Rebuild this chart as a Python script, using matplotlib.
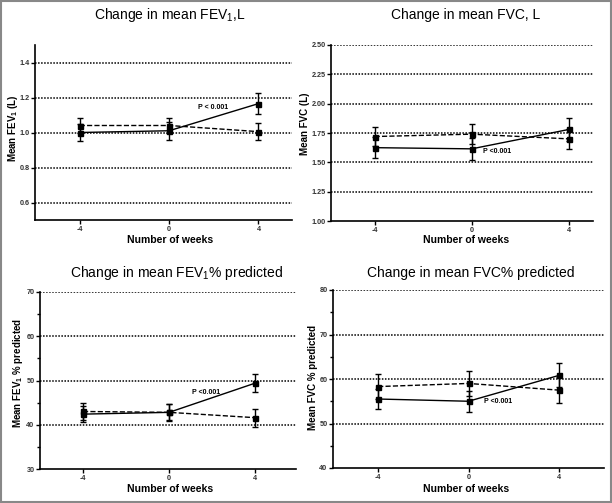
import matplotlib
matplotlib.use("Agg")
import matplotlib.pyplot as plt
from matplotlib.patches import Rectangle

plt.rcParams['font.family'] = ['Liberation Sans', 'DejaVu Sans']
plt.rcParams['mathtext.fontset'] = 'custom'
plt.rcParams['mathtext.rm'] = 'Liberation Sans'
plt.rcParams['mathtext.bf'] = 'Liberation Sans:bold'

W, H = 612, 503
weeks = [-4, 0, 4]

# FEV1, L
fev1_solid = [1.00, 1.01, 1.165]
fev1_solid_err = [0.05, 0.05, 0.06]
fev1_dash = [1.04, 1.04, 1.005]
fev1_dash_err = [0.045, 0.045, 0.05]

# FVC, L
fvc_solid = [1.625, 1.615, 1.78]
fvc_solid_err = [0.09, 0.095, 0.095]
fvc_dash = [1.72, 1.74, 1.70]
fvc_dash_err = [0.08, 0.085, 0.085]

# FEV1 % predicted
fev1p_solid = [42.4, 42.8, 49.4]
fev1p_solid_err = [1.8, 1.8, 2.1]
fev1p_dash = [43.0, 42.8, 41.6]
fev1p_dash_err = [2.0, 1.9, 2.0]

# FVC % predicted
fvcp_solid = [55.5, 55.0, 60.8]
fvcp_solid_err = [2.3, 2.4, 2.7]
fvcp_dash = [58.3, 59.0, 57.5]
fvcp_dash_err = [2.8, 2.8, 3.0]

# box = (left, top, right, bottom) in pixels, text positions in pixels
panels = [
    dict(box=(35, 45, 292, 220), title="Change in mean FEV$_1$,L", tpos=(170, 15),
         xlpos=(170, 240), ylpos=(13, 128),
         ylabel=r"Mean FEV$_\mathbf{1}$ (L)", ylim=(0.5, 1.5), xlim=(-6, 5.5),
         yticks=[0.6, 0.8, 1.0, 1.2, 1.4], ylabels=["0.6", "0.8", "1.0", "1.2", "1.4"],
         minor=None, grid=[0.6, 0.8, 1.0, 1.2, 1.4],
         solid=fev1_solid, solid_err=fev1_solid_err, dash=fev1_dash, dash_err=fev1_dash_err,
         ptext="P < 0.001", pxy=(1.95, 1.143)),
    dict(box=(331, 45, 593, 221), title="Change in mean FVC, L", tpos=(466, 15),
         xlpos=(466, 240), ylpos=(305, 124),
         ylabel="Mean FVC (L)", ylim=(1.0, 2.5), xlim=(-5.8, 5.0),
         yticks=[1.0, 1.25, 1.5, 1.75, 2.0, 2.25, 2.5],
         ylabels=["1.00", "1.25", "1.50", "1.75", "2.00", "2.25", "2.50"],
         minor=None, grid=[1.25, 1.5, 1.75, 2.0, 2.25, 2.5],
         solid=fvc_solid, solid_err=fvc_solid_err, dash=fvc_dash, dash_err=fvc_dash_err,
         ptext="P <0.001", pxy=(1.05, 1.595)),
    dict(box=(40, 292, 296, 469), title="Change in mean FEV$_1$% predicted", tpos=(177, 273),
         xlpos=(170, 489), ylpos=(18, 373),
         ylabel=r"Mean FEV$_\mathbf{1}$ % predicted", ylim=(30, 70), xlim=(-6, 5.9),
         yticks=[30, 40, 50, 60, 70], ylabels=["30", "40", "50", "60", "70"],
         minor=[35, 45, 55, 65], grid=[40, 50, 60, 70],
         solid=fev1p_solid, solid_err=fev1p_solid_err, dash=fev1p_dash, dash_err=fev1p_dash_err,
         ptext="P <0.001", pxy=(1.7, 47.3)),
    dict(box=(333, 290, 604, 468), title="Change in mean FVC% predicted", tpos=(471, 273),
         xlpos=(466, 489), ylpos=(313, 377),
         ylabel="Mean FVC % predicted", ylim=(40, 80), xlim=(-6, 6),
         yticks=[40, 50, 60, 70, 80], ylabels=["40", "50", "60", "70", "80"],
         minor=[45, 55, 65, 75], grid=[50, 60, 70, 80],
         solid=fvcp_solid, solid_err=fvcp_solid_err, dash=fvcp_dash, dash_err=fvcp_dash_err,
         ptext="P <0.001", pxy=(1.3, 54.95)),
]

fig = plt.figure(figsize=(W / 100, H / 100), dpi=100)

for p in panels:
    l, t, r, b = p["box"]
    ax = fig.add_axes([l / W, 1 - b / H, (r - l) / W, (b - t) / H])
    for g in p["grid"]:
        ax.axhline(g, color="black", lw=1.1, ls=(0, (1, 1)), zorder=1)
    ax.errorbar(weeks, p["dash"], yerr=p["dash_err"], color="black", lw=1, ls="--",
                marker="s", ms=3.6, capsize=2.5, elinewidth=1, capthick=1, zorder=3)
    ax.errorbar(weeks, p["solid"], yerr=p["solid_err"], color="black", lw=1, ls="-",
                marker="s", ms=3.6, capsize=2.5, elinewidth=1, capthick=1, zorder=4)
    ax.text(p["pxy"][0], p["pxy"][1], p["ptext"], fontsize=5, fontweight="bold",
            ha="center", va="center")
    ax.set_xlim(p["xlim"])
    ax.set_ylim(p["ylim"])
    ax.set_xticks(weeks)
    ax.set_xticklabels(["-4", "0", "4"])
    ax.set_yticks(p["yticks"])
    ax.set_yticklabels(p["ylabels"])
    if p["minor"]:
        ax.set_yticks(p["minor"], minor=True)
    ax.tick_params(axis="both", labelsize=5.2, length=3, width=1, direction="out",
                   color="black", labelcolor="#333333", pad=1)
    ax.tick_params(axis="y", which="minor", length=2.5, width=1)
    for lab in ax.get_xticklabels() + ax.get_yticklabels():
        lab.set_fontweight("bold")
    for s in ["top", "right"]:
        ax.spines[s].set_visible(False)
    for s in ["left", "bottom"]:
        ax.spines[s].set_linewidth(1.2)

    fig.text(p["tpos"][0] / W, 1 - p["tpos"][1] / H, p["title"], fontsize=10,
             ha="center", va="center")
    fig.text(p["xlpos"][0] / W, 1 - p["xlpos"][1] / H, "Number of weeks", fontsize=7.5,
             fontweight="bold", ha="center", va="center")
    fig.text(p["ylpos"][0] / W, 1 - p["ylpos"][1] / H, p["ylabel"], fontsize=7,
             fontweight="bold", ha="center", va="center", rotation=90)

fig.patches.append(Rectangle((0.002, 0.002), 0.996, 0.996, transform=fig.transFigure,
                             fill=False, edgecolor="#888888", lw=1.5))

fig.savefig("out.png", dpi=100)
